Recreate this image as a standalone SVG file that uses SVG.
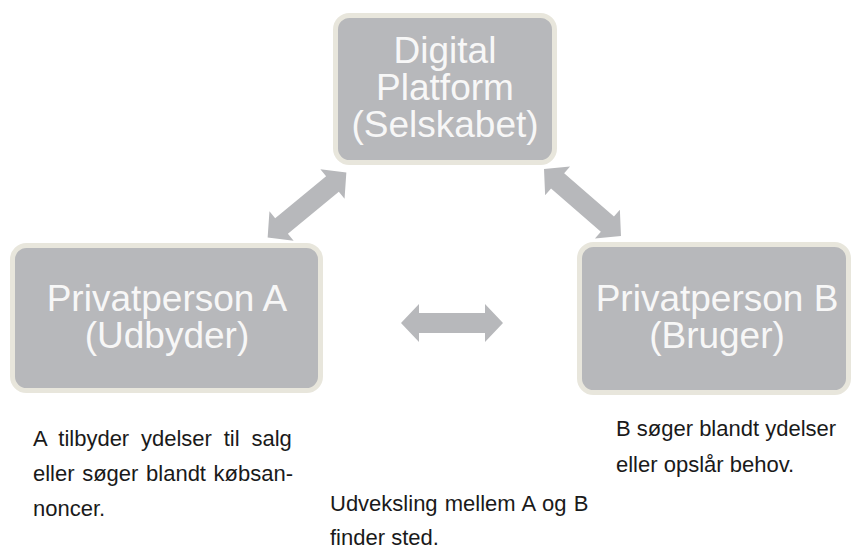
<svg xmlns="http://www.w3.org/2000/svg" width="852" height="549" viewBox="0 0 852 549">
<style>
.box{fill:#b7b8bb;stroke:#e8e6dc;stroke-width:5}
.bt{font-family:"Liberation Sans",Arial,sans-serif;font-size:37px;fill:#f7f7f7;text-anchor:middle}
.arr{fill:#b7b8bb}
.note{font-family:"Liberation Sans",Arial,sans-serif;font-size:22px;fill:#1a1a1a}
</style>
<defs>
<path id="dbl" d="M-51,0 L-33,-19 L-33,-10 L33,-10 L33,-19 L51,0 L33,19 L33,10 L-33,10 L-33,19 Z"/>
</defs>
<g id="connectors">
<use href="#dbl" class="arr" transform="translate(307,205) rotate(-39.5)"/>
<use href="#dbl" class="arr" transform="translate(582.5,202.5) rotate(41)"/>
<use href="#dbl" class="arr" transform="translate(452,323)"/>
</g>
<g id="platform">
<rect class="box" x="335.5" y="15.5" width="219" height="147" rx="14"/>
<text class="bt" x="445" y="63">Digital</text>
<text class="bt" x="445" y="100">Platform</text>
<text class="bt" x="445" y="137">(Selskabet)</text>
</g>
<g id="personA">
<rect class="box" x="12.5" y="245.5" width="308" height="145" rx="14"/>
<text class="bt" x="167" y="311">Privatperson A</text>
<text class="bt" x="167" y="348">(Udbyder)</text>
</g>
<g id="personB">
<rect class="box" x="579.5" y="244.5" width="269" height="148" rx="14"/>
<text class="bt" x="717" y="311">Privatperson B</text>
<text class="bt" x="717" y="348">(Bruger)</text>
</g>
<g id="notes">
<text class="note" x="33" y="446" word-spacing="5.7">A tilbyder ydelser til salg</text>
<text class="note" x="33" y="481" word-spacing="1.5">eller søger blandt købsan-</text>
<text class="note" x="33" y="516">noncer.</text>
<text class="note" x="330" y="511" word-spacing="1">Udveksling mellem A og B</text>
<text class="note" x="330" y="545">finder sted.</text>
<text class="note" x="616" y="436">B søger blandt ydelser</text>
<text class="note" x="616" y="472">eller opslår behov.</text>
</g>
</svg>
